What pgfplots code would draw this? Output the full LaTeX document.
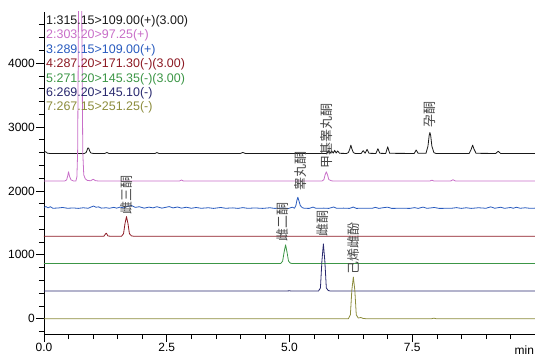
\documentclass[border=0pt]{standalone}
\usepackage{fontspec}
\setmainfont{Liberation Sans}
\newfontfamily\cjk{Noto Sans CJK SC}
\usepackage{pgfplots}
\pgfplotsset{compat=1.18}

\definecolor{cA}{RGB}{25,25,25}
\definecolor{cB}{RGB}{200,110,200}
\definecolor{cC}{RGB}{40,90,190}
\definecolor{cD}{RGB}{140,25,35}
\definecolor{cE}{RGB}{60,150,70}
\definecolor{cF}{RGB}{40,40,110}
\definecolor{cG}{RGB}{140,140,60}
\definecolor{lab}{RGB}{70,70,70}

\begin{document}
\begin{tikzpicture}
\begin{axis}[
  scale only axis,
  width=491bp, height=322bp,
  xmin=0, xmax=10, ymin=-240, ymax=4800,
  axis x line*=bottom, axis y line*=left,
  tick align=outside,
  major tick length=8bp, minor tick length=5bp,
  xtick={0,2.5,5,7.5}, minor xtick={0.5,1,1.5,2,3,3.5,4,4.5,5.5,6,6.5,7,8,8.5,9,9.5},
  ytick={0,1000,2000,3000,4000},
  minor ytick={-200,200,400,600,800,1200,1400,1600,1800,2200,2400,2600,2800,3200,3400,3600,3800,4200,4400,4600},
  xticklabel style={/pgf/number format/.cd, fixed, fixed zerofill, precision=1},
  /pgf/number format/assume math mode=true,
  ticklabel style={font=\fontsize{12}{12}\selectfont, inner sep=1bp},
  yticklabel style={/pgf/number format/1000 sep={}},
  axis line style={line width=0.6bp},
  every tick/.style={line width=0.6bp, black},
  every axis plot/.append style={line width=0.8bp, line join=round},
  clip=true,
]
% channel 1
\addplot[cA] coordinates {
(0,2600)(0.03,2615)(0.07,2590)(0.12,2586)(0.82,2586)(0.855,2598)(0.875,2630)(0.89,2668)(0.9,2674)(0.912,2665)(0.93,2625)(0.95,2596)(0.98,2588)(1.02,2586)
(1.24,2586)(1.28,2602)(1.32,2586)(2.26,2586)(2.3,2600)(2.34,2586)(4.0,2586)(4.05,2602)(4.1,2586)
(5.76,2586)(5.8,2630)(5.83,2590)(5.86,2625)(5.89,2590)(5.92,2635)(5.95,2592)(5.98,2625)(6.02,2588)(6.16,2586)
(6.2,2600)(6.23,2660)(6.25,2716)(6.27,2660)(6.3,2600)(6.34,2586)
(6.46,2586)(6.5,2630)(6.54,2590)(6.58,2650)(6.62,2588)(6.76,2586)(6.8,2660)(6.84,2588)(6.96,2586)(7.0,2690)(7.04,2588)
(7.54,2586)(7.58,2640)(7.62,2588)(7.78,2588)(7.82,2700)(7.845,2870)(7.86,2914)(7.875,2870)(7.9,2700)(7.94,2600)(7.98,2586)
(8.66,2586)(8.7,2650)(8.73,2716)(8.76,2650)(8.8,2588)(9.2,2586)(9.25,2620)(9.3,2586)(10,2586)};
% channel 2
\addplot[cB] coordinates {
(0,2154)(0.42,2154)(0.46,2172)(0.48,2225)(0.5,2299)(0.52,2228)(0.55,2172)(0.6,2156)(0.65,2156)
(0.67,2220)(0.685,2600)(0.695,3800)(0.705,5300)(0.765,5300)(0.778,3800)(0.79,2600)(0.81,2250)(0.84,2190)(0.88,2165)
(0.95,2158)(1.0,2182)(1.05,2160)(1.12,2154)(2.76,2154)(2.8,2170)(2.84,2154)
(5.66,2154)(5.7,2175)(5.725,2250)(5.75,2299)(5.775,2250)(5.8,2178)(5.85,2158)(5.9,2154)
(7.86,2154)(7.9,2168)(7.94,2154)(8.28,2154)(8.33,2174)(8.38,2154)(10,2154)};
% channel 3
\addplot[cC] coordinates {
(0,1742)(0.04,1755)(0.08,1734)(0.13,1752)(0.18,1728)(0.28,1732)(0.38,1740)(0.48,1728)(0.6,1733)(0.7,1726)(0.8,1736)(0.9,1728)
(0.96,1748)(1.01,1762)(1.06,1744)(1.11,1750)(1.17,1730)(1.27,1736)(1.33,1728)(1.42,1742)(1.48,1730)(1.55,1746)(1.62,1734)(1.7,1758)
(1.78,1772)(1.86,1742)(1.94,1752)(2.04,1730)(2.14,1746)(2.22,1734)(2.3,1752)(2.4,1730)(2.55,1754)(2.63,1734)(2.72,1748)(2.8,1730)
(2.9,1744)(3.0,1728)(3.1,1740)(3.2,1728)(3.35,1736)(3.45,1726)(3.6,1740)(3.7,1728)(3.85,1734)(3.95,1726)(4.05,1738)(4.15,1727)
(4.3,1733)(4.45,1726)(4.6,1736)(4.7,1726)(4.85,1732)(4.98,1725)(5.06,1745)(5.1,1728)
(5.13,1770)(5.15,1850)(5.17,1900)(5.19,1850)(5.22,1770)(5.26,1738)(5.3,1728)
(5.4,1726)(5.48,1746)(5.54,1727)(5.7,1730)(5.8,1726)(5.9,1748)(5.96,1727)(6.1,1730)(6.22,1726)(6.3,1747)(6.36,1726)(6.5,1729)
(6.68,1727)(6.75,1742)(6.82,1726)(6.92,1738)(7.0,1745)(7.08,1726)(7.3,1728)(7.45,1726)(7.55,1738)(7.62,1726)(7.72,1746)(7.8,1727)
(7.95,1740)(8.05,1726)(8.3,1728)(8.4,1738)(8.5,1726)(8.6,1736)(8.7,1726)(8.85,1736)(9.0,1728)(9.1,1750)(9.18,1728)(9.3,1744)
(9.38,1727)(9.5,1740)(9.56,1728)(9.62,1744)(9.7,1728)(9.8,1736)(9.9,1727)(10,1730)};
% channel 4
\addplot[cD] coordinates {
(0,1291)(1.22,1291)(1.26,1334)(1.27,1338)(1.3,1296)(1.34,1291)(1.58,1291)(1.62,1330)(1.65,1490)(1.68,1597)(1.71,1490)(1.74,1330)(1.78,1296)(1.82,1291)(10,1291)};
% channel 5
\addplot[cE] coordinates {
(0,863)(4.82,863)(4.86,900)(4.89,1040)(4.92,1155)(4.95,1040)(4.98,900)(5.02,868)(5.06,863)(10,863)};
% channel 6
\addplot[cF] coordinates {
(0,432)(4.9,432)(5.0,436)(5.05,432)(5.59,432)(5.63,480)(5.66,900)(5.69,1171)(5.72,900)(5.75,480)(5.79,440)(5.84,432)(10,432)};
% channel 7
\addplot[cG] coordinates {
(0,0)(6.2,0)(6.24,60)(6.27,450)(6.30,651)(6.33,450)(6.36,60)(6.4,10)(6.45,18)(6.5,4)(6.55,0)(7.9,0)(7.94,8)(7.98,0)(10,0)};

\begin{scope}[every node/.style={rotate=90, anchor=west, inner sep=0pt, text=lab, font=\cjk\fontsize{13}{13}\selectfont}]
\node at (axis cs:1.68,1625) {雌三酮};
\node at (axis cs:5.22,2010) {睾丸酮};
\node at (axis cs:5.75,2355) {甲基睾丸酮};
\node at (axis cs:7.86,2995) {孕酮};
\node at (axis cs:4.86,1200) {雌二酮};
\node at (axis cs:5.67,1290) {雌酮};
\node at (axis cs:6.30,690) {己烯雌酚};
\end{scope}

\node[anchor=north west, align=left, inner sep=0pt, xshift=2bp, yshift=-3bp,
      font=\fontsize{12.5}{14.5}\selectfont] at (rel axis cs:0,1) {%
\textcolor{cA}{1:315.15>109.00(+)(3.00)}\\
\textcolor{cB}{2:303.20>97.25(+)}\\
\textcolor{cC}{3:289.15>109.00(+)}\\
\textcolor{cD}{4:287.20>171.30(-)(3.00)}\\
\textcolor{cE}{5:271.20>145.35(-)(3.00)}\\
\textcolor{cF}{6:269.20>145.10(-)}\\
\textcolor{cG}{7:267.15>251.25(-)}};
\end{axis}
\draw[line width=0.6bp] (491bp,0) -- (491bp,322bp);
\node[anchor=base west, inner sep=0pt, font=\fontsize{12}{12}\selectfont] at (470.5bp,-20bp) {min};
\pgfresetboundingbox
\useasboundingbox (-44bp,-22bp) rectangle (491bp,334bp);
\end{tikzpicture}
\end{document}
